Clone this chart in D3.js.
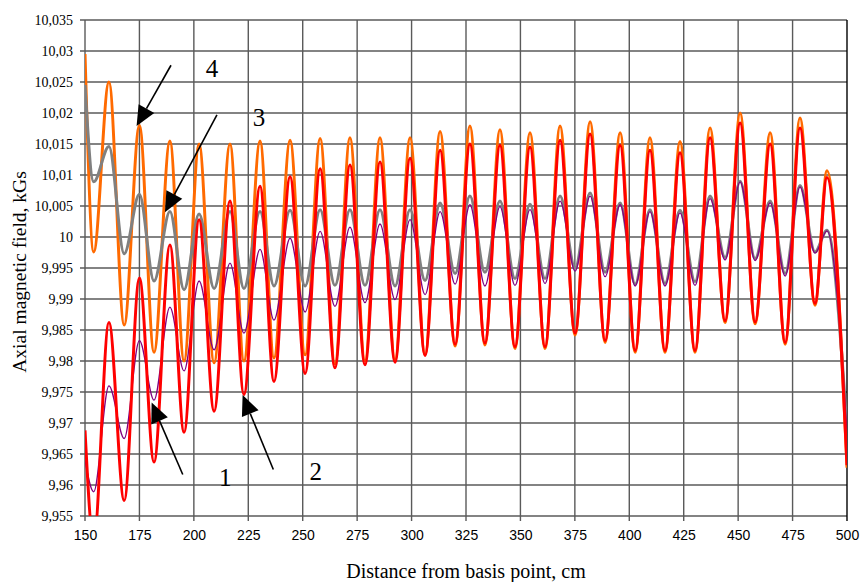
<!DOCTYPE html>
<html>
<head>
<meta charset="utf-8">
<script src="https://cdn.jsdelivr.net/npm/d3@7"></script>
<style>
  html, body { margin: 0; padding: 0; background: #fff; }
  svg { display: block; }
</style>
</head>
<body>
<svg id="chart" width="860" height="582"></svg>
<script>
// ---- Data ----
// Positions along the axis (cm) of start, alternating troughs/peaks, end
const distance = [150, 154, 161, 168, 175, 181.7, 189, 195.5, 202.4, 209.3, 216.6, 223, 230.4, 236.8,
  244.2, 251.1, 258, 264.8, 271.7, 278.6, 285.5, 292.4, 299.3, 306.2, 313.1, 320, 326.8, 333.7,
  340.6, 347.5, 354.4, 361.3, 368.2, 375.1, 382, 388.9, 395.8, 402.7, 409.5, 416.4, 423.3, 430.2,
  437.1, 444, 450.9, 457.8, 464.7, 471.6, 478.4, 485.3, 490.8, 500];

// Curve 4 (orange)
const field4 = [10.0295, 9.9976, 10.025, 9.9858, 10.018, 9.9814, 10.0155, 9.980, 10.015, 9.9797,
  10.015, 9.980, 10.0155, 9.9805, 10.0156, 9.981, 10.0159, 9.9795, 10.016, 9.980, 10.016, 9.9802,
  10.016, 9.981, 10.017, 9.9824, 10.0179, 9.9826, 10.0173, 9.982, 10.0168, 9.982, 10.0179, 9.9842,
  10.0186, 9.983, 10.0168, 9.9814, 10.016, 9.9814, 10.0154, 9.9814, 10.0176, 9.9862, 10.020, 9.986,
  10.0168, 9.9827, 10.0192, 9.989, 10.0107, 9.9628];

// Curve 3 (grey)
const field3 = [10.0245, 10.0089, 10.0146, 9.9973, 10.0069, 9.9929, 10.0041, 9.9915, 10.0037, 9.9917,
  10.0041, 9.9917, 10.0041, 9.9921, 10.0043, 9.9921, 10.0044, 9.9922, 10.0044, 9.9922, 10.0044, 9.9921,
  10.0044, 9.993, 10.0055, 9.9941, 10.0066, 9.9943, 10.0058, 9.9933, 10.0053, 9.9933, 10.0066, 9.995,
  10.0071, 9.9943, 10.0055, 9.9924, 10.0044, 9.9925, 10.0043, 9.9928, 10.0066, 9.9967, 10.009, 9.9965,
  10.0058, 9.9941, 10.0083, 9.9976, 10.0011, 9.9688];

// Curve 2 (purple)
const field2 = [9.964, 9.9589, 9.976, 9.9675, 9.9833, 9.9737, 9.9887, 9.9784, 9.9929, 9.9818,
  9.9958, 9.9845, 9.998, 9.9866, 9.9998, 9.9879, 10.0009, 9.9888, 10.0016, 9.9894, 10.0021, 9.9899,
  10.0028, 9.9907, 10.0041, 9.9924, 10.0052, 9.9921, 10.0049, 9.9922, 10.0044, 9.9925, 10.0058, 9.9945,
  10.0066, 9.9936, 10.0052, 9.9921, 10.0041, 9.9921, 10.0039, 9.9922, 10.0062, 9.9963, 10.0089, 9.9962,
  10.0055, 9.9937, 10.0081, 9.9974, 10.001, 9.9685];

// Curve 1 (red)
const field1 = [9.9688, 9.951, 9.9862, 9.9575, 9.9934, 9.9637, 9.9987, 9.9685, 10.0028, 9.9719,
  10.0058, 9.9746, 10.0082, 9.9767, 10.0097, 9.978, 10.011, 9.9789, 10.0116, 9.9794, 10.0121, 9.9798,
  10.0127, 9.9809, 10.014, 9.9827, 10.015, 9.9829, 10.0148, 9.9823, 10.0145, 9.9823, 10.0156, 9.9845,
  10.0166, 9.9833, 10.0148, 9.9817, 10.014, 9.9817, 10.0136, 9.9817, 10.016, 9.9865, 10.0184, 9.9863,
  10.015, 9.983, 10.0176, 9.9893, 10.0096, 9.9632];

const xTicks = [150, 175, 200, 225, 250, 275, 300, 325, 350, 375, 400, 425, 450, 475, 500];
const yTicks = [9.955, 9.96, 9.965, 9.97, 9.975, 9.98, 9.985, 9.99, 9.995, 10, 10.005, 10.01, 10.015, 10.02, 10.025, 10.03, 10.035];
const yTickLabels = ["9,955", "9,96", "9,965", "9,97", "9,975", "9,98", "9,985", "9,99", "9,995", "10",
  "10,005", "10,01", "10,015", "10,02", "10,025", "10,03", "10,035"];

// Annotation labels and arrows (data units: [x, y])
const annLabels = ["1", "2", "3", "4"];
const annLabelPos = [[214.4, 9.9612], [256, 9.9621], [229.9, 10.0192], [208.3, 10.0271]];
const annArrowFrom = [[194.9, 9.9617], [236.5, 9.9625], [210.6, 10.0197], [189.5, 10.0277]];
const annArrowTo = [[180.6, 9.9733], [222.4, 9.9745], [186.7, 10.0040], [173.7, 10.0179]];

// ---- Layout ----
const svg = d3.select("#chart");
const L = 85, R = 847, T = 20, B = 516;
const x = d3.scaleLinear().domain([150, 500]).range([L, R]);
const y = d3.scaleLinear().domain([9.955, 10.035]).range([B, T]);

svg.append("defs").append("clipPath").attr("id", "plotclip")
  .append("rect").attr("x", L).attr("y", T).attr("width", R - L).attr("height", B - T);

// Grid
const gridColor = "#5a5a5a";
svg.append("g").selectAll("line").data(yTicks).join("line")
  .attr("x1", L - 5).attr("x2", R)
  .attr("y1", d => y(d)).attr("y2", d => y(d))
  .attr("stroke", gridColor).attr("stroke-width", 1.6);
svg.append("g").selectAll("line").data(xTicks).join("line")
  .attr("x1", d => x(d)).attr("x2", d => x(d))
  .attr("y1", T).attr("y2", B + 5)
  .attr("stroke", d => (d === 500 ? "#000" : gridColor)).attr("stroke-width", 1.4);

// Axes (labels only, using d3 axes)
const yAxis = d3.axisLeft(y).tickValues(yTicks).tickSize(0).tickPadding(12)
  .tickFormat((d, i) => yTickLabels[i]);
const gy = svg.append("g").attr("transform", `translate(${L},0)`).call(yAxis);
gy.select(".domain").remove();
gy.selectAll("text").attr("font-family", "'Liberation Serif', 'Times New Roman', serif")
  .attr("font-size", 14).attr("fill", "#000");

const xAxis = d3.axisBottom(x).tickValues(xTicks).tickSize(0).tickPadding(14)
  .tickFormat(d3.format("d"));
const gx = svg.append("g").attr("transform", `translate(0,${B})`).call(xAxis);
gx.select(".domain").remove();
gx.selectAll("text").attr("font-family", "'Liberation Sans', Arial, sans-serif")
  .attr("font-size", 14).attr("fill", "#000");

// Axis titles
svg.append("text")
  .attr("x", (L + R) / 2).attr("y", 578)
  .attr("text-anchor", "middle")
  .attr("font-family", "'Liberation Serif', 'Times New Roman', serif")
  .attr("font-size", 20)
  .text("Distance from basis point, cm");
svg.append("text")
  .attr("transform", `translate(26,${(T + B) / 2 + 4}) rotate(-90)`)
  .attr("text-anchor", "middle")
  .attr("font-family", "'Liberation Serif', 'Times New Roman', serif")
  .attr("font-size", 19.5)
  .text("Axial magnetic field, kGs");

// Curves
const line = d3.line().x(d => x(d[0])).y(d => y(d[1])).curve(d3.curveMonotoneX);
const series = [
  { vals: field4, color: "#FF6A00", width: 3 },
  { vals: field3, color: "#808080", width: 3 },
  { vals: field2, color: "#800080", width: 1.3 },
  { vals: field1, color: "#FF0000", width: 3 }
];
const gLines = svg.append("g").attr("clip-path", "url(#plotclip)");
series.forEach(s => {
  gLines.append("path")
    .datum(distance.map((d, i) => [d, s.vals[i]]))
    .attr("d", line)
    .attr("fill", "none")
    .attr("stroke", s.color)
    .attr("stroke-width", s.width)
    .attr("stroke-linejoin", "round");
});

// Annotations
const gAnn = svg.append("g");
annLabels.forEach((lab, i) => {
  const fx = x(annArrowFrom[i][0]), fy = y(annArrowFrom[i][1]);
  const tx = x(annArrowTo[i][0]), ty = y(annArrowTo[i][1]);
  const ang = Math.atan2(ty - fy, tx - fx);
  const headLen = 20, headW = 9;
  const bx = tx - headLen * Math.cos(ang), by = ty - headLen * Math.sin(ang);
  gAnn.append("line")
    .attr("x1", fx).attr("y1", fy).attr("x2", bx).attr("y2", by)
    .attr("stroke", "#000").attr("stroke-width", 1.6);
  const px = -Math.sin(ang), py = Math.cos(ang);
  gAnn.append("path")
    .attr("d", `M${tx},${ty}L${bx + headW * px},${by + headW * py}L${bx - headW * px},${by - headW * py}Z`)
    .attr("fill", "#000");
  gAnn.append("text")
    .attr("x", x(annLabelPos[i][0])).attr("y", y(annLabelPos[i][1]))
    .attr("text-anchor", "middle").attr("dominant-baseline", "central")
    .attr("font-family", "'Liberation Serif', 'Times New Roman', serif")
    .attr("font-size", 25)
    .text(lab);
});
</script>
</body>
</html>
